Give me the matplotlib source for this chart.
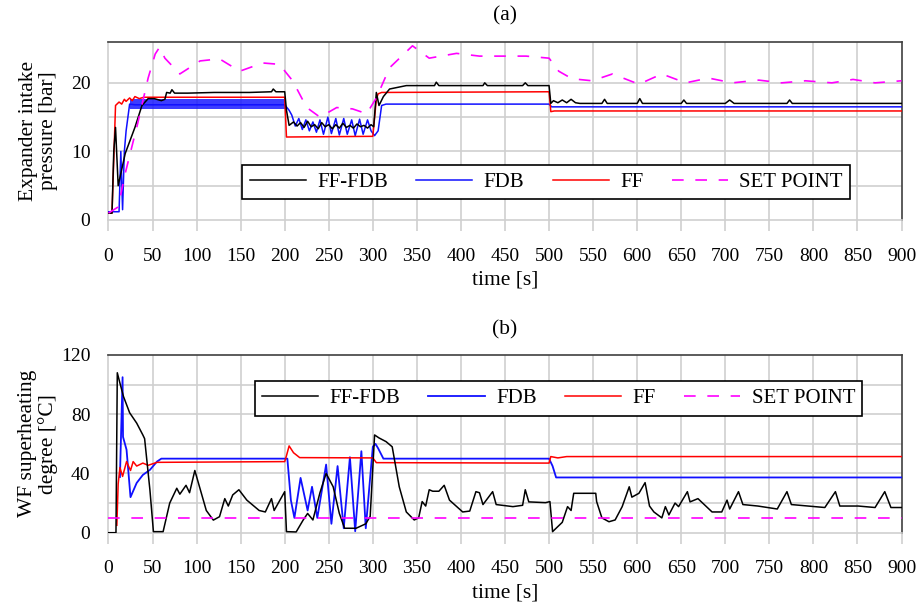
import numpy as np
import matplotlib
matplotlib.use("Agg")
import matplotlib.pyplot as plt

plt.rcParams['font.family'] = ['Liberation Serif', 'DejaVu Serif']

# ---- (a) expander intake pressure [bar] ----
p_sp_t = [0, 11, 19, 33, 45, 53, 58, 64, 81, 104, 126, 149, 175, 194, 209, 225, 240,
          259, 277, 293, 304, 319, 345, 364, 395, 421, 447, 474, 500, 511, 526, 549,
          572, 602, 628, 655, 681, 708, 738, 764, 791, 821, 845, 870, 900]
p_sp_v = [1.0, 1.9, 6.8, 14, 20.7, 24.2, 25.2, 23.6, 21.3, 23.2, 23.5, 21.7, 22.9, 22.7,
          20.3, 16.4, 15.0, 16.4, 16.2, 15.5, 17.8, 22.2, 25.4, 23.6, 24.3, 23.9, 23.9,
          23.9, 23.6, 21.7, 20.6, 20.3, 21.3, 19.8, 21.3, 20.0, 20.7, 20.0, 20.4, 20.0,
          20.3, 20.0, 20.5, 20.0, 20.3]

p_ff_t = [0, 4, 8, 12, 15, 18, 20, 24, 27, 30, 35, 40, 200, 202, 300, 304, 306, 310,
          500, 502, 506, 900]
p_ff_v = [1.0, 1.0, 16.7, 17.2, 16.9, 17.6, 17.3, 17.8, 17.4, 18.0, 17.7, 17.9, 17.9,
          12.1, 12.2, 17.6, 18.4, 18.6, 18.7, 15.8, 15.9, 15.9]

p_fdb_t = [0, 12, 14, 16, 18, 20, 24, 30, 200, 205, 208, 212, 216, 220, 224, 228, 232,
           236, 240, 244, 249, 253, 258, 262, 267, 271, 276, 280, 285, 289, 294, 298,
           302, 306, 310, 315, 500, 503, 900]
p_fdb_v = [1.2, 1.2, 10, 1.5, 10, 13, 16.9, 16.8, 16.8, 16.0, 15.3, 13.7, 14.8, 13.2,
           14.6, 13.0, 14.3, 12.8, 14.6, 12.5, 15.0, 12.6, 14.8, 12.4, 14.8, 12.5, 14.6,
           12.3, 14.7, 12.5, 14.6, 13.0, 12.3, 13.0, 16.7, 16.9, 16.9, 16.5, 16.5]
# noisy band of the FDB pressure between 24 s and 200 s
p_fdb_band_t = [24, 200]
p_fdb_band_lo = [16.2, 16.2]
p_fdb_band_hi = [17.6, 17.6]

p_ffb_t = [0, 4, 6, 8, 11, 19, 30, 38, 45, 52,
           60, 64, 66, 70, 72, 75, 90, 120, 160, 185,
           187, 190, 200, 202, 205, 210, 214, 218, 222, 226,
           230, 234, 238, 242, 246, 250, 254, 258, 262, 266,
           270, 274, 278, 282, 286, 290, 294, 298, 301, 304,
           307, 312, 319, 338, 360, 370, 372, 375, 420, 425,
           427, 430, 470, 473, 476, 500, 502, 505, 510, 515,
           520, 525, 530, 535, 560, 563, 566, 600, 603, 606,
           650, 653, 656, 700, 705, 710, 770, 773, 776, 900]
p_ffb_v = [1.0, 1.0, 10, 13.5, 5.0, 9.7, 13.5, 16.7, 17.7, 17.7,
           17.4, 17.6, 18.6, 18.5, 19.0, 18.5, 18.5, 18.6, 18.6, 18.7,
           19.1, 18.7, 18.7, 16.0, 13.8, 14.3, 13.7, 14.2, 13.5, 14.4,
           13.6, 13.9, 13.3, 14.2, 13.6, 13.9, 13.3, 13.9, 13.4, 14.1,
           13.5, 13.8, 13.4, 14.0, 13.6, 13.8, 13.4, 13.9, 13.6, 18.6,
           16.7, 18.0, 19.1, 19.6, 19.6, 19.6, 20.1, 19.6, 19.6, 19.6,
           20.0, 19.6, 19.6, 20.0, 19.6, 19.6, 17.0, 17.4, 17.1, 17.5,
           17.1, 17.6, 17.1, 17.0, 17.0, 17.6, 17.0, 17.0, 17.7, 17.0,
           17.0, 17.5, 17.0, 17.0, 17.5, 17.0, 17.0, 17.5, 17.0, 17.0]

# ---- (b) WF superheating degree [°C] ----
s_sp_t = [0, 900]
s_sp_v = [10, 10]

s_ff_t = [0, 9.5, 11, 13, 16, 20.5, 25, 28, 32, 39, 45, 55, 200, 202, 205, 210, 217,
          300, 304, 500, 502, 510, 520, 900]
s_ff_v = [np.nan, 5, 33, 44, 38, 48, 42, 48, 45, 47, 45.5, 47.5, 48, 52, 58.6, 54, 50.7,
          50.5, 47.3, 47.0, 51.4, 50.5, 51.4, 51.4]

s_fdb_t = [0, 13, 16, 16.5, 20.5, 25, 32, 39, 47, 55, 60, 200, 203, 207, 211, 218, 226,
           231, 237, 247, 253, 260, 267, 274, 280, 287, 292, 300, 303, 306, 312, 500,
           504, 508, 900]
s_fdb_v = [np.nan, 37.6, 105, 64.7, 56, 24, 33.6, 39, 42.4, 48, 50, 50, 50, 22, 10, 37,
           15, 31, 10, 46, 6, 45, 3, 51, 1, 55, 3, 58, 60, 57, 50, 50, 45, 37.3, 37.3]

s_ffb_t = [0, 8.5, 10, 13, 17, 24, 32, 39, 41, 47,
           51, 62, 69.5, 77.5, 81, 88, 92, 98, 111, 119,
           126, 132, 136, 141, 148, 157, 171, 178, 185, 188,
           200, 202, 213, 221, 226, 232, 240, 247, 255, 262,
           268, 281, 292, 297, 302, 307, 315, 322, 330, 338,
           347, 352, 356, 360, 364, 368, 375, 381, 387, 402,
           410, 417, 421, 425, 436, 440, 459, 470, 473, 477,
           496, 501, 504, 508, 515, 521, 525, 528, 553, 554,
           560, 568, 575, 583, 591, 594, 602, 609, 614, 619,
           628, 632, 636, 643, 647, 657, 660, 669, 685, 696,
           702, 705, 715, 720, 737, 748, 759, 770, 775, 794,
           813, 825, 830, 851, 870, 881, 888, 900]
s_ffb_v = [0, 0, 108, 101, 92, 81, 74, 66, 63.5, 29,
           0.7, 0.7, 20, 30, 26, 32, 27, 42, 15, 8.5,
           10.8, 23, 18, 25.5, 29, 22, 15, 14, 23, 15,
           27.7, 0.7, 0.5, 8.6, 13, 8.6, 27, 40, 31, 13,
           3, 3, 6, 11, 66, 64, 61.5, 58, 31, 14,
           8.6, 10, 21, 18, 29, 28, 28, 32, 22, 14,
           14.6, 27.7, 27, 19, 27.7, 19, 17.6, 18.5, 29, 20.8,
           20.3, 21, 0.7, 3, 7, 17.6, 15, 26.6, 26.6, 21,
           10, 7.4, 8.6, 17.6, 31, 24, 26.6, 33.8, 18, 14,
           10, 17.6, 12, 20, 17.6, 27.7, 20.8, 23, 14, 14,
           22, 16, 27.7, 19, 18, 17, 16, 27.7, 19, 18,
           17, 27.7, 18, 18, 17, 27.7, 17, 17]

time_ticks = np.arange(0, 901, 50)

fig = plt.figure(figsize=(9.17, 6.09), dpi=100)
ax_a = fig.add_axes([0.1183, 0.6388, 0.8648, 0.2927])
ax_b = fig.add_axes([0.1183, 0.1253, 0.8648, 0.2918])

grid_c = '#cfcfcf'
sp_kw = dict(color='#ff00ff', lw=1.2, dashes=(7, 7))


def style_axes(ax, ylim, yticks, ygrid, title, ylabel):
    ax.set_xlim(0, 900)
    ax.set_ylim(*ylim)
    ax.set_xticks(time_ticks)
    ax.set_yticks(yticks)
    for y in ygrid:
        ax.axhline(y, color=grid_c, lw=1.2, zorder=0)
    for x in time_ticks[1:-1]:
        ax.axvline(x, color=grid_c, lw=1.2, zorder=0)
    ax.tick_params(axis='x', direction='out', length=8, width=1.2, color=grid_c,
                   labelsize=14, pad=12)
    ax.tick_params(axis='y', length=0, labelsize=14, pad=13)
    ax.spines['left'].set_color(grid_c)
    ax.spines['bottom'].set_color(grid_c)
    ax.spines['top'].set_color('#404040')
    ax.spines['right'].set_color('#404040')
    for s in ax.spines.values():
        s.set_linewidth(1.2)
    ax.set_xlabel('time [s]', fontsize=15.5, labelpad=4)
    ax.set_ylabel(ylabel, fontsize=15.5, linespacing=1.05)
    ax.yaxis.set_label_coords(-0.064, 0.5)
    ax.set_title(title, fontsize=15.5, pad=15)


# (a)
ax_a.fill_between(p_fdb_band_t, p_fdb_band_lo, p_fdb_band_hi, color='#1a1aff', lw=0,
                  alpha=0.85, zorder=2)
ax_a.plot(p_ffb_t, p_ffb_v, color='black', lw=1.1, label='FF-FDB', zorder=4)
ax_a.plot(p_fdb_t, p_fdb_v, color='#1010ff', lw=1.1, label='FDB', zorder=3)
ax_a.plot(p_ff_t, p_ff_v, color='red', lw=1.1, label='FF', zorder=3)
ax_a.plot(p_sp_t, p_sp_v, label='SET POINT', zorder=5, **sp_kw)
style_axes(ax_a, (0, 26), [0, 10, 20], [5, 10, 15, 20], '(a)',
           'Expander intake\npressure [bar]')

# (b)
ax_b.plot(s_ffb_t, s_ffb_v, color='black', lw=1.1, label='FF-FDB', zorder=4)
ax_b.plot(s_fdb_t, s_fdb_v, color='#1010ff', lw=1.3, label='FDB', zorder=3)
ax_b.plot(s_ff_t, s_ff_v, color='red', lw=1.1, label='FF', zorder=3)
ax_b.plot(s_sp_t, s_sp_v, label='SET POINT', zorder=5, **sp_kw)
style_axes(ax_b, (0, 120), [0, 40, 80, 120], [20, 40, 60, 80, 100], '(b)',
           'WF superheating\ndegree [°C]')

for ax, anchor in ((ax_a, (0.552, 0.213)), (ax_b, (0.5675, 0.755))):
    leg = ax.legend(loc='center', bbox_to_anchor=anchor, ncol=4, fontsize=15,
                    handlelength=2.7, columnspacing=1.35, handletextpad=0.55,
                    fancybox=False, framealpha=1, borderpad=0.35)
    leg.get_frame().set_edgecolor('black')
    leg.get_frame().set_linewidth(1.2)
    leg.set_zorder(10)

fig.savefig('out.png', dpi=100)
